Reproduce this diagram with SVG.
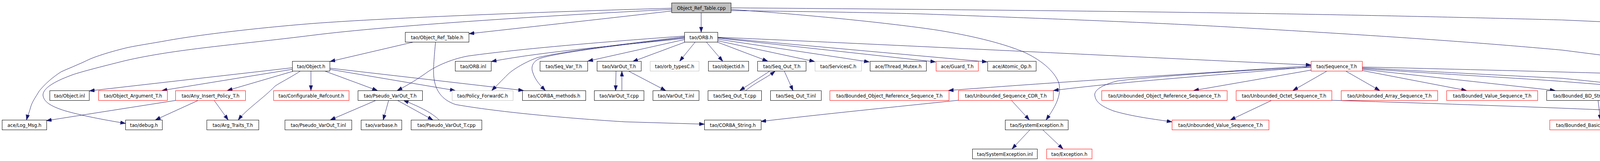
<svg xmlns="http://www.w3.org/2000/svg" width="4849" height="411" viewBox="0 0 4849 411">
<style>
.n rect{fill:#ffffff;stroke:#000000;stroke-width:1}
.n.r rect{stroke:#ff0000}
.n.g rect{stroke:#bfbfbf}
.n.root rect{fill:#bfbfbf}
.n text{font-family:"DejaVu Sans","Liberation Sans",sans-serif;font-size:11.8px;fill:#000000;text-anchor:middle}
#edges path{fill:none;stroke:#191970;stroke-width:1;marker-end:url(#arr)}
</style>
<defs>
<marker id="arr" markerUnits="userSpaceOnUse" markerWidth="14" markerHeight="10" refX="13" refY="4.5" orient="auto">
<path d="M0,0 L13,4.5 L0,9 z" fill="#191970" stroke="#191970" stroke-width="1"/>
</marker>
</defs>
<rect x="0" y="0" width="4849" height="411" fill="#ffffff"/>
<g id="edges">
<path d="M1795,32 L1795,82"/>
<path d="M1719,28 C1600,42 1400,64 1201,86"/>
<path d="M1719,21 C1400,30 1000,45 800,60 C650,72 500,90 420,105 C380,112 340,118 320,123 C280,133 240,145 217,157 C195,167 175,175 157,183 C130,200 110,220 100,233 C90,250 82,260 78,275 C74,290 70,298 68,306"/>
<path d="M1719,24 C1400,40 1000,65 800,90 C600,115 450,125 320,155 C260,170 200,185 180,193 C140,208 110,225 110,243 C112,258 125,270 167,283 C220,298 280,308 321,315"/>
<path d="M1871,24 C2100,40 2300,62 2400,77 C2480,90 2560,108 2619,132 C2660,150 2700,180 2711,213 C2718,245 2700,275 2678,306"/>
<path d="M1871,20 C2400,24 2800,28 3200,34 C3600,40 4000,51 4000,51 L4692,82"/>
<path d="M1871,27 C2100,30 2300,33 2400,37 C2800,52 3000,60 3200,72 C3600,95 3800,110 4000,128 C4250,160 4420,180 4471,192 C4540,210 4590,225 4610,240 C4640,265 4655,290 4660,306"/>
<path d="M1060,107 L845,157"/>
<path d="M1115,107 C1112,140 1108,180 1111,200 C1115,230 1130,255 1167,267 C1300,290 1500,305 1600,311 L1803,317"/>
<path d="M748,173 L229,232"/>
<path d="M748,177 L415,231"/>
<path d="M750,182 L582,231"/>
<path d="M768,182 C740,200 715,212 704,220 C675,250 630,280 610,306"/>
<path d="M796,182 L796,231"/>
<path d="M833,182 L966,231"/>
<path d="M844,177 L1165,231"/>
<path d="M844,174 L1340,231"/>
<path d="M452,256 L119,308"/>
<path d="M508,256 L398,306"/>
<path d="M548,256 L584,306"/>
<path d="M963,256 L846,306"/>
<path d="M995,256 L981,306"/>
<path d="M1017,256 L1108,306"/>
<path d="M1124,306 C1105,288 1080,275 1033,256"/>
<path d="M1752,92 C1600,103 1350,122 1198,143 C1150,152 1110,172 1090,187 C1060,208 1035,222 1017,231"/>
<path d="M1752,94 C1600,112 1450,130 1376,147 C1340,160 1310,180 1300,190 C1285,205 1270,220 1259,231"/>
<path d="M1752,96 C1600,113 1420,135 1380,150 C1360,160 1360,175 1364,185 C1370,205 1385,220 1396,231"/>
<path d="M1752,98 C1600,115 1400,130 1258,157"/>
<path d="M1752,101 L1505,156"/>
<path d="M1755,107 L1620,157"/>
<path d="M1780,107 L1740,156"/>
<path d="M1808,107 L1850,156"/>
<path d="M1835,107 L1965,156"/>
<path d="M1837,104 L2085,157"/>
<path d="M1837,100 L2225,158"/>
<path d="M1837,97 L2395,158"/>
<path d="M1837,96 L2527,158"/>
<path d="M1837,95 C2300,115 3000,150 3356,166"/>
<path d="M1577,182 L1576,231"/>
<path d="M1592,231 L1592,182"/>
<path d="M1610,182 L1704,231"/>
<path d="M1970,182 L1894,231"/>
<path d="M1909,231 C1935,210 1960,200 1984,182"/>
<path d="M2008,182 L2030,231"/>
<path d="M3356,168 C3100,185 2700,210 2428,231"/>
<path d="M3356,170 C3200,186 2900,205 2697,231"/>
<path d="M3356,172 C3200,177 2900,200 2859,207 C2810,220 2800,235 2803,245 C2806,265 2830,275 2850,283 C2900,298 2960,305 3000,311"/>
<path d="M3356,179 L3056,231"/>
<path d="M3396,182 L3310,231"/>
<path d="M3446,182 L3532,231"/>
<path d="M3487,180 L3754,231"/>
<path d="M3487,177 L3981,231"/>
<path d="M3487,171 C3700,176 3900,181 4150,188 C4300,190 4440,190 4480,195 C4530,205 4570,225 4583,240 C4592,255 4585,270 4567,280 C4540,292 4510,298 4487,306"/>
<path d="M3487,173 C3700,185 3900,195 4000,200 C4100,210 4200,220 4227,230 C4240,240 4240,260 4230,270 C4210,290 4170,298 4150,306"/>
<path d="M3487,175 C3700,190 3900,200 4000,208 L4292,231"/>
<path d="M3256,256 L3150,306"/>
<path d="M3409,256 C3800,268 4300,285 4589,307"/>
<path d="M2589,256 L2635,306"/>
<path d="M2453,256 C2300,272 2100,292 1948,310"/>
<path d="M2637,331 L2591,380"/>
<path d="M2669,331 L2721,380"/>
<path d="M4091,256 L4097,306"/>
<path d="M4428,256 L4422,306"/>
<path d="M4661,331 L4661,380"/>
</g>
<g id="n_cpp" class="n root"><rect x="1719.5" y="7.5" width="152" height="25"/><text x="1795.5" y="24.5">Object_Ref_Table.cpp</text></g>
<g id="n_ort_h" class="n"><rect x="1037.5" y="82.5" width="163" height="25"/><text x="1119" y="99.5">tao/Object_Ref_Table.h</text></g>
<g id="n_orb_h" class="n"><rect x="1752.5" y="82.5" width="85" height="25"/><text x="1795" y="99.5">tao/ORB.h</text></g>
<g id="n_orbc" class="n"><rect x="4692.5" y="82.5" width="153" height="25"/><text x="4769" y="99.5">tao/ORB_Constants.h</text></g>
<g id="n_object_h" class="n"><rect x="748.5" y="156.5" width="96" height="25"/><text x="796.5" y="173.5">tao/Object.h</text></g>
<g id="n_orb_inl" class="n"><rect x="1165.5" y="156.5" width="92" height="25"/><text x="1211.5" y="173.5">tao/ORB.inl</text></g>
<g id="n_seqvar" class="n"><rect x="1382.5" y="156.5" width="122" height="25"/><text x="1443.5" y="173.5">tao/Seq_Var_T.h</text></g>
<g id="n_varout_h" class="n"><rect x="1528.5" y="156.5" width="113" height="25"/><text x="1585" y="173.5">tao/VarOut_T.h</text></g>
<g id="n_orbtypes" class="n g"><rect x="1664.5" y="156.5" width="125" height="25"/><text x="1727" y="173.5">tao/orb_typesC.h</text></g>
<g id="n_objectid" class="n"><rect x="1813.5" y="156.5" width="103" height="25"/><text x="1865" y="173.5">tao/objectid.h</text></g>
<g id="n_seqout_h" class="n"><rect x="1939.5" y="156.5" width="124" height="25"/><text x="2001.5" y="173.5">tao/Seq_Out_T.h</text></g>
<g id="n_services" class="n g"><rect x="2086.5" y="156.5" width="119" height="25"/><text x="2146" y="173.5">tao/ServicesC.h</text></g>
<g id="n_thread_mutex" class="n"><rect x="2227.5" y="156.5" width="144" height="25"/><text x="2299.5" y="173.5">ace/Thread_Mutex.h</text></g>
<g id="n_guard" class="n r"><rect x="2396.5" y="156.5" width="108" height="25"/><text x="2450.5" y="173.5">ace/Guard_T.h</text></g>
<g id="n_atomic" class="n"><rect x="2528.5" y="156.5" width="124" height="25"/><text x="2590.5" y="173.5">ace/Atomic_Op.h</text></g>
<g id="n_sequence" class="n r"><rect x="3356.5" y="156.5" width="131" height="25"/><text x="3422" y="173.5">tao/Sequence_T.h</text></g>
<g id="n_object_inl" class="n"><rect x="127.5" y="231.5" width="101" height="25"/><text x="178" y="248.5">tao/Object.inl</text></g>
<g id="n_obj_arg" class="n r"><rect x="252.5" y="231.5" width="176" height="25"/><text x="340.5" y="248.5">tao/Object_Argument_T.h</text></g>
<g id="n_any_insert" class="n r"><rect x="449.5" y="231.5" width="179" height="25"/><text x="539" y="248.5">tao/Any_Insert_Policy_T.h</text></g>
<g id="n_conf_ref" class="n r"><rect x="700.5" y="231.5" width="193" height="25"/><text x="797" y="248.5">tao/Configurable_Refcount.h</text></g>
<g id="n_pseudo_h" class="n"><rect x="916.5" y="231.5" width="165" height="25"/><text x="999" y="248.5">tao/Pseudo_VarOut_T.h</text></g>
<g id="n_policy_fwd" class="n g"><rect x="1157.5" y="231.5" width="156" height="25"/><text x="1235.5" y="248.5">tao/Policy_ForwardC.h</text></g>
<g id="n_corba_methods" class="n"><rect x="1337.5" y="231.5" width="162" height="25"/><text x="1418.5" y="248.5">tao/CORBA_methods.h</text></g>
<g id="n_varout_cpp" class="n"><rect x="1521.5" y="231.5" width="127" height="25"/><text x="1585" y="248.5">tao/VarOut_T.cpp</text></g>
<g id="n_varout_inl" class="n"><rect x="1671.5" y="231.5" width="118" height="25"/><text x="1730.5" y="248.5">tao/VarOut_T.inl</text></g>
<g id="n_seqout_cpp" class="n"><rect x="1812.5" y="231.5" width="137" height="25"/><text x="1881" y="248.5">tao/Seq_Out_T.cpp</text></g>
<g id="n_seqout_inl" class="n"><rect x="1972.5" y="231.5" width="130" height="25"/><text x="2037.5" y="248.5">tao/Seq_Out_T.inl</text></g>
<g id="n_bors" class="n r"><rect x="2124.5" y="231.5" width="305" height="25"/><text x="2277" y="248.5">tao/Bounded_Object_Reference_Sequence_T.h</text></g>
<g id="n_uscdr" class="n r"><rect x="2453.5" y="231.5" width="243" height="25"/><text x="2575" y="248.5">tao/Unbounded_Sequence_CDR_T.h</text></g>
<g id="n_uors" class="n r"><rect x="2820.5" y="231.5" width="321" height="25"/><text x="2981" y="248.5">tao/Unbounded_Object_Reference_Sequence_T.h</text></g>
<g id="n_uocts" class="n r"><rect x="3164.5" y="231.5" width="245" height="25"/><text x="3287" y="248.5">tao/Unbounded_Octet_Sequence_T.h</text></g>
<g id="n_uarr" class="n r"><rect x="3433.5" y="231.5" width="247" height="25"/><text x="3557" y="248.5">tao/Unbounded_Array_Sequence_T.h</text></g>
<g id="n_bval" class="n r"><rect x="3703.5" y="231.5" width="233" height="25"/><text x="3820" y="248.5">tao/Bounded_Value_Sequence_T.h</text></g>
<g id="n_bbd" class="n"><rect x="3959.5" y="231.5" width="260" height="25"/><text x="4089.5" y="248.5">tao/Bounded_BD_String_Sequence_T.h</text></g>
<g id="n_ubd" class="n"><rect x="4292.5" y="231.5" width="275" height="25"/><text x="4430" y="248.5">tao/Unbounded_BD_String_Sequence_T.h</text></g>
<g id="n_logmsg" class="n"><rect x="5.5" y="306.5" width="114" height="25"/><text x="62.5" y="323.5">ace/Log_Msg.h</text></g>
<g id="n_debug" class="n"><rect x="321.5" y="306.5" width="94" height="25"/><text x="368.5" y="323.5">tao/debug.h</text></g>
<g id="n_argtraits" class="n"><rect x="529.5" y="306.5" width="133" height="25"/><text x="596" y="323.5">tao/Arg_Traits_T.h</text></g>
<g id="n_pseudo_inl" class="n"><rect x="729.5" y="306.5" width="171" height="25"/><text x="815" y="323.5">tao/Pseudo_VarOut_T.inl</text></g>
<g id="n_varbase" class="n"><rect x="924.5" y="306.5" width="104" height="25"/><text x="976.5" y="323.5">tao/varbase.h</text></g>
<g id="n_pseudo_cpp" class="n"><rect x="1052.5" y="306.5" width="181" height="25"/><text x="1143" y="323.5">tao/Pseudo_VarOut_T.cpp</text></g>
<g id="n_corba_string" class="n"><rect x="1803.5" y="306.5" width="145" height="25"/><text x="1876" y="323.5">tao/CORBA_String.h</text></g>
<g id="n_sysexc" class="n"><rect x="2573.5" y="306.5" width="161" height="25"/><text x="2654" y="323.5">tao/SystemException.h</text></g>
<g id="n_uval" class="n r"><rect x="3000.5" y="306.5" width="248" height="25"/><text x="3124.5" y="323.5">tao/Unbounded_Value_Sequence_T.h</text></g>
<g id="n_bbasic" class="n r"><rect x="3967.5" y="306.5" width="273" height="25"/><text x="4104" y="323.5">tao/Bounded_Basic_String_Sequence_T.h</text></g>
<g id="n_ubasic" class="n r"><rect x="4277.5" y="306.5" width="290" height="25"/><text x="4422.5" y="323.5">tao/Unbounded_Basic_String_Sequence_T.h</text></g>
<g id="n_osns" class="n"><rect x="4589.5" y="306.5" width="144" height="25"/><text x="4661.5" y="323.5">ace/OS_NS_string.h</text></g>
<g id="n_sysexc_inl" class="n"><rect x="2489.5" y="380.5" width="166" height="25"/><text x="2572.5" y="397.5">tao/SystemException.inl</text></g>
<g id="n_exception" class="n r"><rect x="2679.5" y="380.5" width="116" height="25"/><text x="2737.5" y="397.5">tao/Exception.h</text></g>
<g id="n_basic_types" class="n r"><rect x="4595.5" y="380.5" width="133" height="25"/><text x="4662" y="397.5">ace/Basic_Types.h</text></g>
</svg>
